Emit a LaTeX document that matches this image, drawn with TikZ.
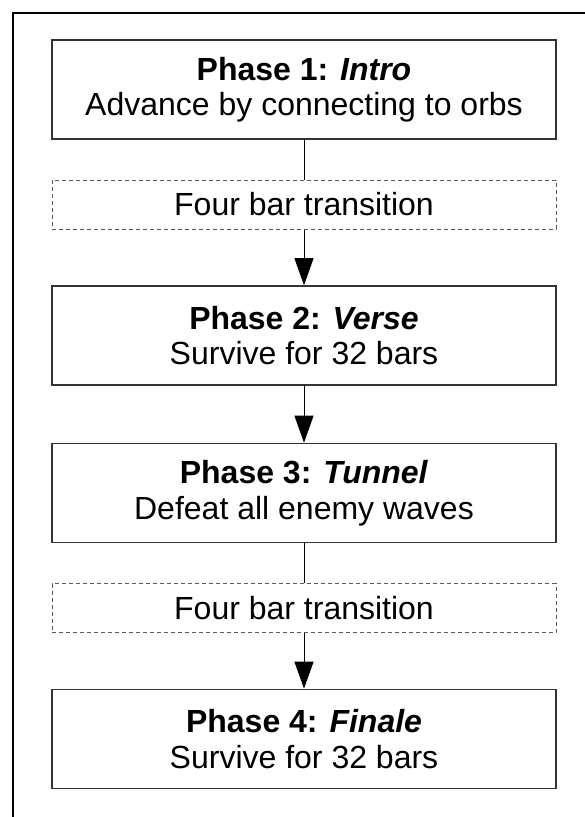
\documentclass[tikz,border=0pt]{standalone}
\usepackage{fontspec}
\setmainfont{Liberation Sans}
\usetikzlibrary{arrows.meta}
\begin{document}
\begin{tikzpicture}[x=1pt,y=-1pt,
  phasebox/.style={draw=black!80, line width=1.6pt, minimum width=504pt,
    minimum height=99pt, inner sep=0pt, align=center,
    font=\fontsize{32}{35.5}\selectfont},
  barbox/.style={draw=black!65, line width=1pt, dash pattern=on 4pt off 3pt,
    minimum width=504pt, minimum height=49pt, inner sep=0pt,
    font=\fontsize{32}{35.5}\selectfont},
  link/.style={draw=black, line width=1pt},
  flow/.style={link, -{Triangle[length=27pt,width=19pt]}}]
  \useasboundingbox (0,0) rectangle (585,817);
  % page frame
  \draw[line width=1.5pt] (585,13) -- (13,13) -- (13,817);

  \node[phasebox] (p1) at (304,89.5)
    {\textbf{Phase 1: \textit{Intro}}\\Advance by connecting to orbs};
  \node[barbox] (t1) at (304,204.5) {Four bar transition};
  \node[phasebox] (p2) at (304,335.5)
    {\textbf{Phase 2: \textit{Verse}}\\Survive for 32 bars};
  \node[phasebox] (p3) at (304,493)
    {\textbf{Phase 3: \textit{Tunnel}}\\Defeat all enemy waves};
  \node[barbox] (t2) at (304,608) {Four bar transition};
  \node[phasebox] (p4) at (304,739)
    {\textbf{Phase 4: \textit{Finale}}\\Survive for 32 bars};

  \draw[link] (p1) -- (t1);
  \draw[flow] (t1) -- (p2);
  \draw[flow] (p2) -- (p3);
  \draw[link] (p3) -- (t2);
  \draw[flow] (t2) -- (p4);
\end{tikzpicture}
\end{document}
